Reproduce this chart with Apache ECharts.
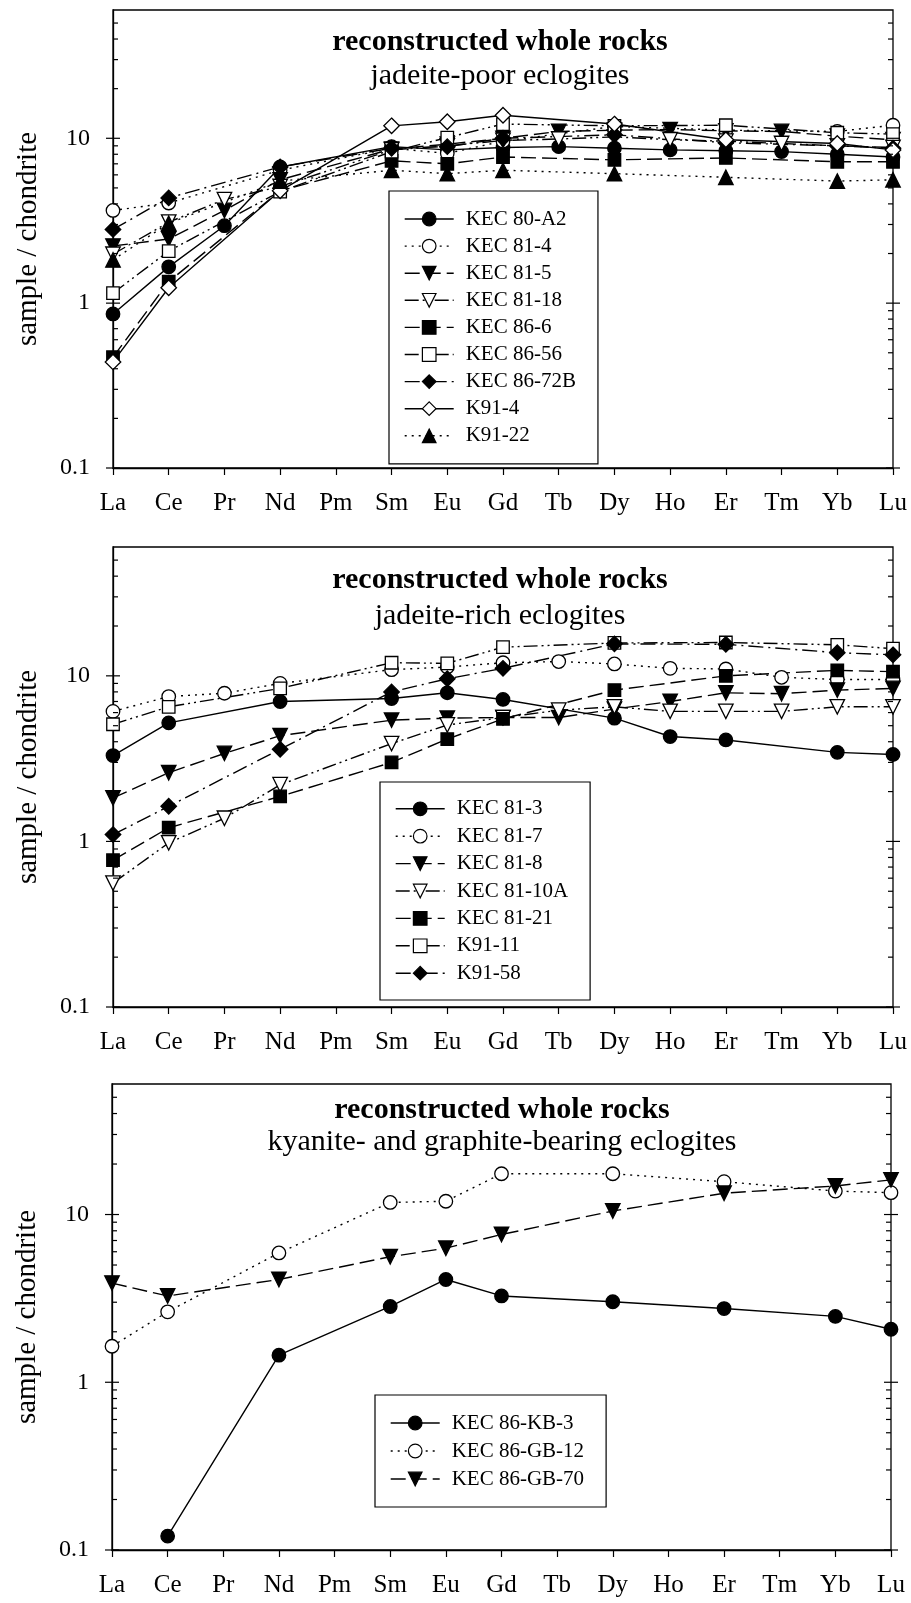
<!DOCTYPE html>
<html><head><meta charset="utf-8">
<script src="https://cdn.jsdelivr.net/npm/echarts@6/dist/echarts.min.js"></script>
<style>html,body{margin:0;padding:0;background:#fff}#c{width:911px;height:1603px}</style>
</head><body><div id="c"></div>
<script>
// ---------- data ----------
const elements = ['La','Ce','Pr','Nd','Pm','Sm','Eu','Gd','Tb','Dy','Ho','Er','Tm','Yb','Lu'];
const yMajorTicks = [0.1, 1, 10];
const yMinorTicks = [0.2,0.3,0.4,0.5,0.6,0.7,0.8,0.9,2,3,4,5,6,7,8,9,20,30,40,50];

// panel 1: jadeite-poor eclogites
const kec80A2  = [0.86, 1.66, 2.95, 6.7, null, 8.9, 8.5, 8.8, 8.9, 8.7, 8.5, 8.4, 8.3, 8.0, 7.7];
const kec81_4  = [3.65, 4.05, null, 6.4, null, 8.7, 8.1, 9.6, null, 11.8, null, 11.2, null, 11.0, 12.0];
const kec81_5  = [2.22, 2.45, 3.65, 5.6, null, 8.6, 9.2, 10.0, 11.0, 11.2, 11.3, 11.1, 11.0, 10.3, 9.8];
const kec81_18 = [1.98, 3.1, 4.25, 5.1, null, 8.5, 9.0, 9.7, 9.9, 10.2, 9.8, 9.6, 9.3, 9.0, 8.8];
const kec86_6  = [0.47, 1.35, null, 4.8, null, 7.3, 7.0, 7.7, null, 7.4, null, 7.6, null, 7.2, 7.2];
const kec86_56 = [1.15, 2.07, null, 4.75, null, 8.3, 10.1, 12.2, null, 11.9, null, 12.0, null, 10.8, 10.6];
const kec86_72B= [2.8, 4.35, null, 6.7, null, 8.7, 8.9, 10.0, null, 10.5, null, 9.4, null, 9.0, 8.7];
const k91_4    = [0.44, 1.24, null, 4.8, null, 11.9, 12.6, 13.8, null, 12.2, null, 9.8, null, 9.3, 8.5];
const k91_22   = [1.83, 3.05, null, 5.5, null, 6.4, 6.1, 6.4, null, 6.1, null, 5.8, null, 5.5, 5.6];

// panel 2: jadeite-rich eclogites
const kec81_3  = [3.3, 5.2, null, 7.0, null, 7.3, 7.9, 7.2, null, 5.55, 4.3, 4.1, null, 3.45, 3.35];
const kec81_7  = [6.1, 7.5, 7.85, 9.0, null, 10.9, 11.3, 12.0, 12.2, 11.8, 11.1, 11.0, 9.8, 9.5, 9.5];
const kec81_8  = [1.83, 2.6, 3.4, 4.35, null, 5.4, 5.55, 5.6, 5.6, 6.3, 7.0, 7.9, 7.8, 8.2, 8.4];
const kec81_10A= [0.56, 0.98, 1.38, 2.2, null, 3.9, 5.05, 5.6, 6.2, 6.5, 6.1, 6.1, 6.1, 6.5, 6.5];
const kec81_21 = [0.77, 1.21, null, 1.87, null, 3.0, 4.15, 5.5, null, 8.2, null, 10.0, null, 10.8, 10.6];
const k91_11   = [5.1, 6.5, null, 8.4, null, 12.0, 11.9, 14.9, null, 15.8, null, 15.9, null, 15.4, 14.6];
const k91_58   = [1.1, 1.63, null, 3.6, null, 8.0, 9.6, 11.1, null, 15.6, null, 15.5, null, 13.8, 13.4];

// panel 3: kyanite- and graphite-bearing eclogites
const kec86KB3  = [null, 0.121, null, 1.45, null, 2.83, 4.1, 3.27, null, 3.02, null, 2.75, null, 2.47, 2.07];
const kec86GB12 = [1.64, 2.63, null, 5.9, null, 11.8, 12.0, 17.5, null, 17.5, null, 15.7, null, 13.8, 13.5];
const kec86GB70 = [3.9, 3.27, null, 4.1, null, 5.6, 6.3, 7.6, null, 10.5, null, 13.4, null, 14.8, 16.1];

const titleMain = 'reconstructed whole rocks';
const subTitles = ['jadeite-poor eclogites', 'jadeite-rich eclogites', 'kyanite- and graphite-bearing eclogites'];
const yName = 'sample / chondrite';

// ---------- styles ----------
const FONT = '"Liberation Serif", "Times New Roman", serif';
const DASH = {
  solid: 'solid',
  dot: [2, 5],
  dash: [15, 6],
  dashdot: [15, 5, 2, 5],
  dashdotdot: [14, 4, 2, 4, 2, 4]
};
const DOWN = 'path://M0,0L10,0L5,9Z';
const SYM = {
  circle: ['circle', 13.5], square: ['rect', 12.5], diamond: ['diamond', 15.5],
  up: ['triangle', 14.5], down: [DOWN, 14.5]
};

function line(name, data, gi, sym, filled, dash) {
  return {
    name, type: 'line', data, xAxisIndex: gi, yAxisIndex: gi,
    connectNulls: true, showSymbol: true,
    symbol: SYM[sym][0], symbolSize: SYM[sym][1],
    lineStyle: {color: '#000', width: 1.4, type: DASH[dash]},
    itemStyle: {color: filled ? '#000' : '#fff', borderColor: '#000', borderWidth: 1.3},
    emphasis: {disabled: true}, animation: false, z: 3
  };
}

function tickSeries(gi) {
  const d = yMajorTicks.map(v => [0, v, 1]).concat(yMinorTicks.map(v => [0, v, 0]));
  return {
    type: 'custom', xAxisIndex: gi, yAxisIndex: gi, silent: true, z: 4, animation: false,
    data: d, encode: {x: 0, y: 1},
    renderItem(params, api) {
      const v = api.value(1), major = api.value(2) === 1;
      const y = api.coord([0, v])[1];
      const cs = params.coordSys;
      const L = cs.x, R = cs.x + cs.width;
      const segs = major ? [[L - 7, L + 7], [R - 7, R + 7]] : [[L, L + 5], [R - 5, R]];
      return {type: 'group', children: segs.map(s => ({
        type: 'line', shape: {x1: s[0], y1: y, x2: s[1], y2: y},
        style: {stroke: '#000', lineWidth: 1.2}
      }))};
    }
  };
}

const grids = [
  {left: 113, top: 10, width: 780, height: 458},
  {left: 113, top: 547, width: 780, height: 460},
  {left: 112, top: 1084, width: 779, height: 466}
].map(g => Object.assign(g, {show: true, borderColor: '#000', borderWidth: 1.3, backgroundColor: 'transparent'}));

const xAxes = grids.map((g, i) => ({
  type: 'category', gridIndex: i, data: elements, boundaryGap: false,
  axisLine: {lineStyle: {color: '#000', width: 1.3}},
  axisTick: {show: true, length: 7, interval: 0, lineStyle: {color: '#000', width: 1.2}},
  axisLabel: {interval: 0, fontSize: 25, color: '#000', fontFamily: FONT, margin: 23},
  splitLine: {show: false}
}));

const yAxes = grids.map((g, i) => ({
  type: 'log', logBase: 10, gridIndex: i, min: 0.1, max: 60,
  name: yName, nameLocation: 'middle', nameGap: 70, nameRotate: 90,
  nameTextStyle: {fontSize: 29, color: '#000', fontFamily: FONT},
  axisLine: {show: true, lineStyle: {color: '#000', width: 1.3}},
  axisTick: {show: false}, minorTick: {show: false},
  splitLine: {show: false},
  axisLabel: {
    fontSize: 24, color: '#000', fontFamily: FONT, margin: 23,
    formatter: v => {
      const l = Math.log10(v);
      if (Math.abs(l - Math.round(l)) > 1e-6 || Math.round(l) > 1) return '';
      return Math.round(l) < 0 ? '0.1' : String(Math.round(v));
    }
  }
}));

const series = [
  line('KEC 80-A2', kec80A2, 0, 'circle', true, 'solid'),
  line('KEC 81-4', kec81_4, 0, 'circle', false, 'dot'),
  line('KEC 81-5', kec81_5, 0, 'down', true, 'dash'),
  line('KEC 81-18', kec81_18, 0, 'down', false, 'dashdotdot'),
  line('KEC 86-6', kec86_6, 0, 'square', true, 'dash'),
  line('KEC 86-56', kec86_56, 0, 'square', false, 'dashdotdot'),
  line('KEC 86-72B', kec86_72B, 0, 'diamond', true, 'dashdot'),
  line('K91-4', k91_4, 0, 'diamond', false, 'solid'),
  line('K91-22', k91_22, 0, 'up', true, 'dot'),

  line('KEC 81-3', kec81_3, 1, 'circle', true, 'solid'),
  line('KEC 81-7', kec81_7, 1, 'circle', false, 'dot'),
  line('KEC 81-8', kec81_8, 1, 'down', true, 'dash'),
  line('KEC 81-10A', kec81_10A, 1, 'down', false, 'dashdotdot'),
  line('KEC 81-21', kec81_21, 1, 'square', true, 'dash'),
  line('K91-11', k91_11, 1, 'square', false, 'dashdotdot'),
  line('K91-58', k91_58, 1, 'diamond', true, 'dashdot'),

  line('KEC 86-KB-3', kec86KB3, 2, 'circle', true, 'solid'),
  line('KEC 86-GB-12', kec86GB12, 2, 'circle', false, 'dot'),
  line('KEC 86-GB-70', kec86GB70, 2, 'down', true, 'dash'),

  tickSeries(0), tickSeries(1), tickSeries(2)
];

function legend(names, left, top, padding, gap) {
  return {
    data: names, orient: 'vertical', left, top, padding,
    itemWidth: 49, itemHeight: 17, itemGap: gap,
    borderColor: '#000', borderWidth: 1.2, backgroundColor: '#fff',
    textStyle: {fontSize: 21, color: '#000', fontFamily: FONT, padding: [0, 0, 0, 7]},
    itemStyle: {borderWidth: 1.2},
    lineStyle: {width: 1.4},
    selectedMode: false
  };
}

const legends = [
  legend(['KEC 80-A2','KEC 81-4','KEC 81-5','KEC 81-18','KEC 86-6','KEC 86-56','KEC 86-72B','K91-4','K91-22'], 389, 191, [17.5, 22, 17.5, 15], 6.1),
  legend(['KEC 81-3','KEC 81-7','KEC 81-8','KEC 81-10A','KEC 81-21','K91-11','K91-58'], 380, 782, [16.3, 22, 16.3, 15], 6.4),
  legend(['KEC 86-KB-3','KEC 86-GB-12','KEC 86-GB-70'], 375, 1395, [17.5, 22, 17.5, 15], 7)
];

const titlePos = [[500, 42, 76], [500, 580, 616], [502, 1110, 1142]];
const graphics = [];
titlePos.forEach((p, i) => {
  graphics.push({type: 'text', x: p[0], y: p[1], silent: true,
    style: {text: titleMain, font: 'bold 30px ' + FONT, fill: '#000', textAlign: 'center', textVerticalAlign: 'middle'}});
  graphics.push({type: 'text', x: p[0], y: p[2], silent: true,
    style: {text: subTitles[i], font: '30px ' + FONT, fill: '#000', textAlign: 'center', textVerticalAlign: 'middle'}});
});

const chart = echarts.init(document.getElementById('c'), null, {renderer: 'canvas'});
chart.setOption({
  animation: false,
  backgroundColor: '#fff',
  grid: grids, xAxis: xAxes, yAxis: yAxes,
  legend: legends, series, graphic: graphics
});
</script></body></html>
